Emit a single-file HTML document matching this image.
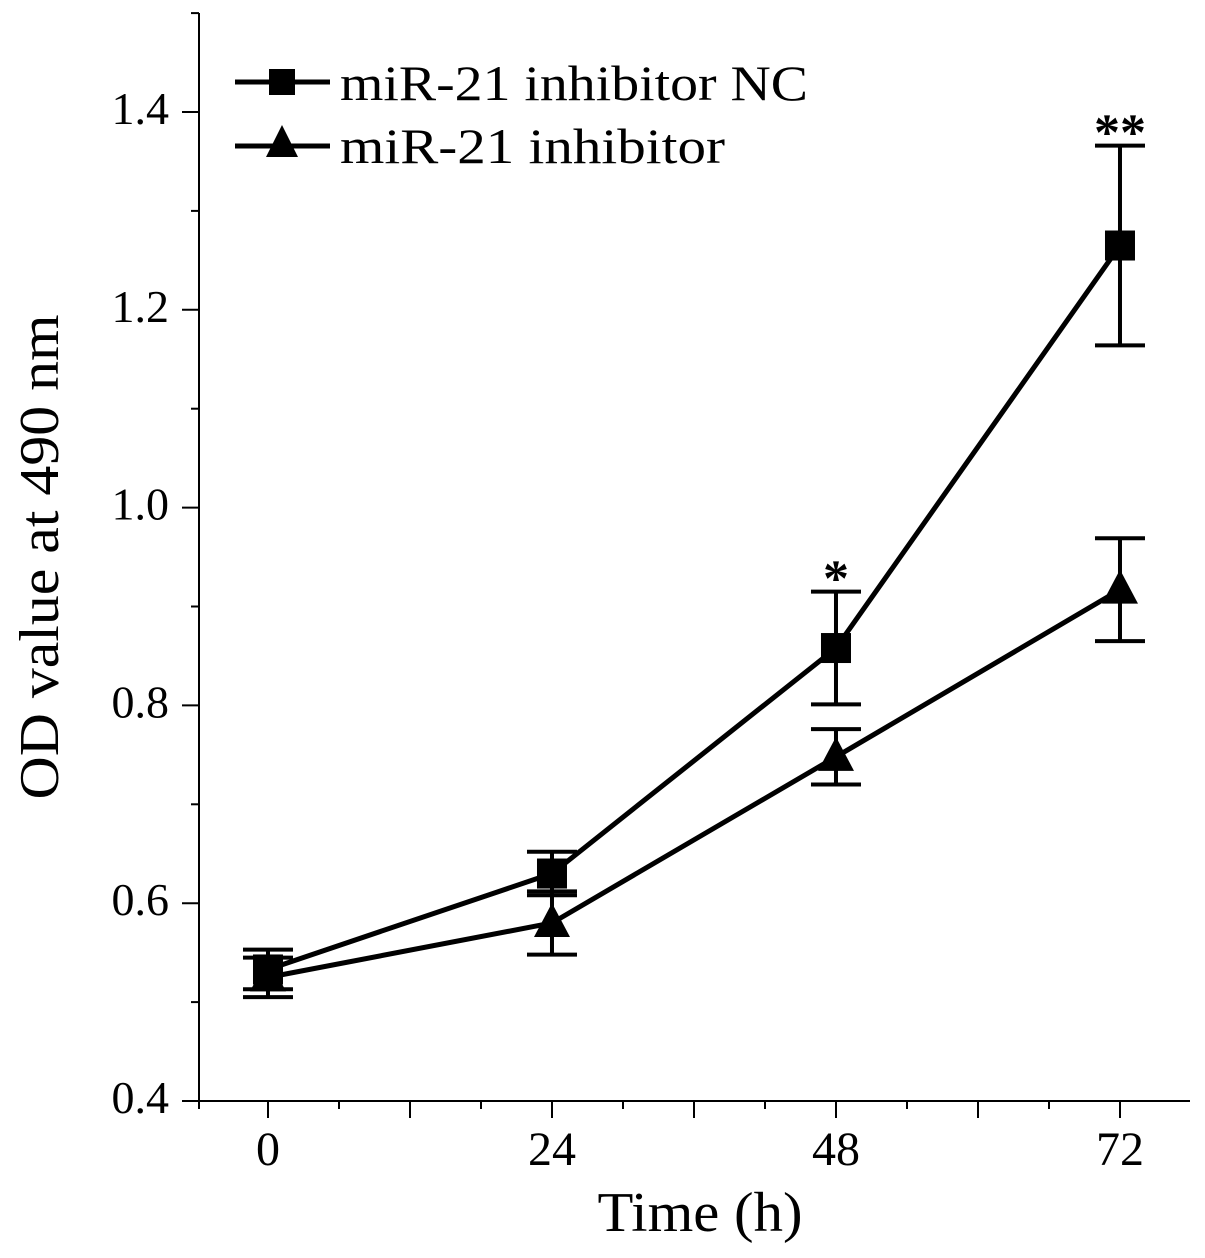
<!DOCTYPE html>
<html><head><meta charset="utf-8"><style>
html,body{margin:0;padding:0;background:#fff}
svg{display:block}
text{font-family:"Liberation Serif",serif;fill:#000}
</style></head><body>
<svg id="chart" width="1205" height="1258" viewBox="0 0 1205 1258" xmlns="http://www.w3.org/2000/svg">
<g id="axes"></g>
<g id="series"></g>
<g id="legend">
  <line x1="235" y1="82" x2="330" y2="82" stroke="#000" stroke-width="5"/>
  <rect x="269" y="69" width="26" height="26" fill="#000"/>
  <text x="340" y="100" font-size="50" textLength="468" lengthAdjust="spacingAndGlyphs">miR-21 inhibitor NC</text>
  <line x1="235" y1="146" x2="330" y2="146" stroke="#000" stroke-width="5"/>
  <polygon points="282,125 298,157 266,157" fill="#000"/>
  <text x="340" y="163" font-size="50" textLength="385" lengthAdjust="spacingAndGlyphs">miR-21 inhibitor</text>
</g>
<text x="700" y="1231" font-size="56" text-anchor="middle" textLength="205" lengthAdjust="spacingAndGlyphs">Time (h)</text>
<text transform="translate(58,557) rotate(-90)" font-size="56" text-anchor="middle" textLength="485" lengthAdjust="spacingAndGlyphs">OD value at 490 nm</text>
</svg>
<script>
const times = [0, 24, 48, 72];
const ncMean = [0.533, 0.630, 0.858, 1.265];
const ncErr = [0.020, 0.022, 0.057, 0.101];
const inhMean = [0.525, 0.580, 0.748, 0.917];
const inhErr = [0.020, 0.032, 0.028, 0.052];
const yTicks = [0.4, 0.6, 0.8, 1.0, 1.2, 1.4];
const xTicks = [0, 24, 48, 72];
const sigLabels = ["", "", "*", "**"];

const NS = "http://www.w3.org/2000/svg";
const X0 = 199, Y0 = 1101, YTOP = 13, XEND = 1190;
const xMin = -5.83, xPer = 284/24;
const yMin = 0.4, yPer = 989/1.0;
const sx = v => X0 + (v - xMin) * xPer;
const sy = v => Y0 - (v - yMin) * yPer;
function mk(tag, attrs, parent){const e=document.createElementNS(NS,tag);for(const k in attrs)e.setAttribute(k,attrs[k]);parent.appendChild(e);return e;}
const axes = document.getElementById('axes');
const ser = document.getElementById('series');

let e = mk('line',{x1:X0,y1:YTOP,x2:X0,y2:Y0,stroke:'#000','stroke-width':2},axes);


e = mk('line',{x1:X0,y1:Y0,x2:XEND,y2:Y0,stroke:'#000','stroke-width':2},axes);



for (let k = 0; k <= 11; k++) {
  const v = 0.4 + k * 0.1;
  const major = k % 2 === 0;
  e = mk('line',{x1:X0-(major?17:8),y1:sy(v),x2:X0,y2:sy(v),stroke:'#000','stroke-width':2},axes);
  
  
}
yTicks.forEach(v => {
  e = mk('text',{x:169,y:sy(v)+12,'font-size':46,'text-anchor':'end'},axes);
  e.textContent = v.toFixed(1);
  
  
});
for (let t = -6; t <= 78; t += 6) {
  const px = sx(t);
  if (px < X0 - 1 || px > XEND) continue;
  const major = t % 12 === 0;
  e = mk('line',{x1:px,y1:Y0,x2:px,y2:Y0+(major?17:8),stroke:'#000','stroke-width':2},axes);
  
  
}
e = mk('line',{x1:X0,y1:Y0,x2:X0,y2:Y0+8,stroke:'#000','stroke-width':2},axes);


xTicks.forEach(t => {
  const s = String(t);
  e = mk('text',{x:sx(t),y:1165,'font-size':48,'text-anchor':'middle'},axes);
  e.textContent = s;
  
  
});

function drawSeries(means, errs, kind) {
  const pts = times.map((t,i)=>sx(t)+','+sy(means[i])).join(' ');
  e = mk('polyline',{points:pts,fill:'none',stroke:'#000','stroke-width':5,'stroke-linejoin':'round'},ser);
  
  
  times.forEach((t,i)=>{
    const cx = sx(t), top = sy(means[i]+errs[i]), bot = sy(means[i]-errs[i]);
    e = mk('path',{d:`M${cx},${top}V${bot}M${cx-25},${top}H${cx+25}M${cx-25},${bot}H${cx+25}`,stroke:'#000','stroke-width':4,fill:'none'},ser);
    
    
    const cy = sy(means[i]);
    if (kind === 'nc') {
      e = mk('rect',{x:cx-15,y:cy-15,width:30,height:30,fill:'#000'},ser);
      
      
    } else {
      e = mk('polygon',{points:`${cx},${cy-20} ${cx+18},${cy+14} ${cx-18},${cy+14}`,fill:'#000'},ser);
      
      
    }
  });
}
drawSeries(inhMean, inhErr, 'inhibitor');
drawSeries(ncMean, ncErr, 'nc');

times.forEach((t,i)=>{
  if (!sigLabels[i]) return;
  const top = Math.min(sy(ncMean[i]+ncErr[i]), sy(inhMean[i]+inhErr[i]));
  e = mk('text',{x:sx(t),y:top+4,'font-size':52,'font-weight':'bold','text-anchor':'middle','font-family':'Liberation Sans, sans-serif'},ser);
  e.textContent = sigLabels[i];
  
  
});
</script>
</body></html>
